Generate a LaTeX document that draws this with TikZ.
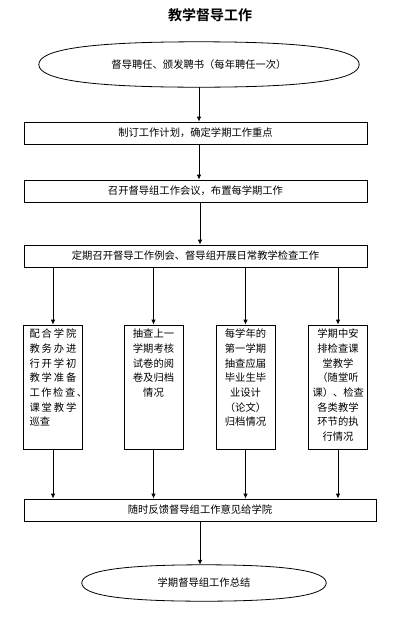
\documentclass[tikz,border=0pt]{standalone}
\usepackage{fontspec}
\setmainfont{Noto Sans CJK SC}[BoldFont={Noto Sans CJK SC Bold}]
\usetikzlibrary{shapes.geometric,arrows.meta}
\tikzset{
  box/.style={draw,line width=0.8pt,minimum width=343pt,minimum height=22pt,inner sep=0pt},
  oval/.style={ellipse,inner sep=0pt},
  colbox/.style={draw,line width=0.8pt,inner xsep=4pt,inner ysep=4pt},
  arr/.style={-{Latex[length=5pt,width=4.5pt]},line width=0.8pt}
}
\newcommand{\coltext}[1]{\parbox[c][116pt][t]{51pt}{\centering\fontsize{10.3}{14.7}\selectfont #1}}
\newcommand{\spread}[1]{\makebox[47pt][s]{#1}}
% full oval outline round a node: name, x control, y control
\newcommand{\termline}[3]{\draw[line width=0.8pt] (#1.west) .. controls +(0,-#3) and +(-#2,0) .. (#1.north)
  .. controls +(#2,0) and +(0,-#3) .. (#1.east) .. controls +(0,#3) and +(#2,0) .. (#1.south)
  .. controls +(-#2,0) and +(0,#3) .. (#1.west) -- cycle;}
\begin{document}
\begin{tikzpicture}[x=1pt,y=-1pt,font=\fontsize{10.3}{12}\selectfont]
  \useasboundingbox (0,0) rectangle (416,619);
  \node (title) at (210,15) {\fontsize{14}{16}\selectfont\bfseries 教学督导工作};
  \node[oval,minimum width=320pt,minimum height=45pt] (o1) at (199,64.5) {督导聘任、颁发聘书（每年聘任一次）};
  \termline{o1}{108.8}{15.3}
  \node[box] (b1) at (195.5,133) {制订工作计划，确定学期工作重点};
  \node[box] (b2) at (195.5,191) {召开督导组工作会议，布置每学期工作};
  \node[box] (b3) at (195.5,256) {定期召开督导工作例会、督导组开展日常教学检查工作};
  % four columns
  \node[colbox] (cA) at (53,387) {\coltext{\spread{配 合 学 院}\\ \spread{教 务 办 进}\\ \spread{行 开 学 初}\\ \spread{教 学 准 备}\\ \spread{工 作 检 查 、}\\ \spread{课 堂 教 学}\\ \makebox[47pt][l]{巡查}}};
  \node[colbox] (cB) at (153.5,387) {\coltext{抽查上一\\学期考核\\试卷的阅\\卷及归档\\情况}};
  \node[colbox] (cC) at (245.5,387) {\coltext{每学年的\\第一学期\\抽查应届\\毕业生毕\\业设计\\（论文）\\归档情况}};
  \node[colbox] (cD) at (338,387) {\coltext{学期中安\\排检查课\\堂教学\\（随堂听\\课）、检查\\各类教学\\环节的执\\行情况}};
  \node[box,minimum width=352pt] (b5) at (200,510) {随时反馈督导组工作意见给学院};
  \node[oval,minimum width=244pt,minimum height=36pt] (o2) at (204,583) {学期督导组工作总结};
  \termline{o2}{83}{12.2}
  \draw[arr] (o1.south) -- (o1.south |- b1.north);
  \draw[arr] (o1.south |- b1.south) -- (o1.south |- b2.north);
  \draw[arr] (b5.north |- b2.south) -- (b5.north |- b3.north);
  \foreach \c in {cA,cB,cC,cD} {
    \draw[arr] (\c.north |- b3.south) -- (\c.north);
    \draw[arr] (\c.south) -- (\c.south |- b5.north);
  }
  \draw[arr] (b5.south) -- (b5.south |- o2.north);
\end{tikzpicture}
\end{document}
